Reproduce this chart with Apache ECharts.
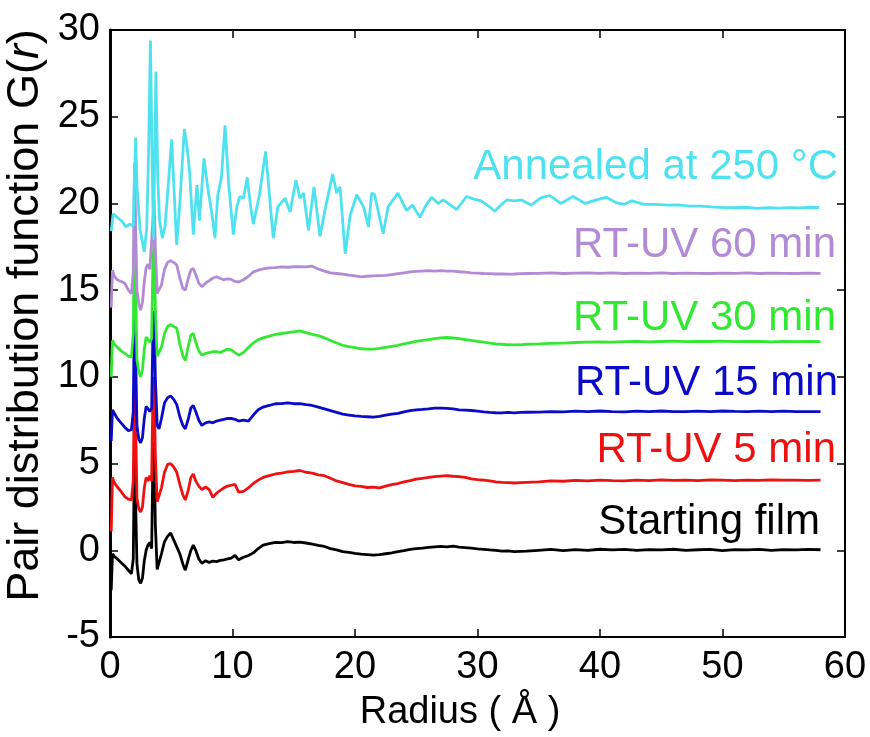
<!DOCTYPE html>
<html>
<head>
<meta charset="utf-8">
<script src="https://cdn.jsdelivr.net/npm/echarts@6/dist/echarts.min.js"></script>
<style>html,body{margin:0;padding:0;background:#fff}#c{width:870px;height:737px}</style>
</head>
<body>
<div id="c"></div>
<script>
// Radius grid for the UV / starting-film curves (Å)
const rUV = [0.1,0.2,0.35,0.6,0.9,1.2,1.5,1.75,1.9,2.0,2.1,2.2,2.35,2.5,2.65,2.8,2.95,3.1,3.25,3.4,3.5,3.6,3.7,3.85,4.0,4.2,4.45,4.7,4.95,5.2,5.45,5.7,5.95,6.15,6.4,6.6,6.8,7.0,7.25,7.5,7.8,8.1,8.4,8.7,9.0,9.3,9.6,9.9,
 10.2,10.5,10.9,11.3,11.7,12.1,12.5,13.0,13.5,14.0,14.5,15.0,15.5,16.0,16.5,17.0,17.5,18.0,18.5,19.0,19.5,20.0,20.5,21.0,21.5,22.0,22.5,23.0,23.5,24.0,24.5,25.0,25.5,26.0,26.5,27.0,27.5,28.0,28.5,29.0,29.5,30.0,30.5,31.0,31.5,32.0,32.5,33.0,33.5,34.0,
 35,36,37,38,39,40,41,42,43,44,45,46,47,48,49,50,51,52,53,54,55,56,57,58];

const gStart = [-2.3,-0.2,-0.35,-0.5,-0.7,-0.9,-1.15,-1.35,-0.5,6.0,2.5,-0.8,-1.7,-1.9,-1.6,-0.6,0.0,0.3,0.45,0.1,5.0,6.2,1.5,-1.1,-1.1,-0.2,0.5,0.8,1.0,0.6,0.2,-0.2,-0.8,-1.15,-0.5,0.0,0.3,0.0,-0.5,-0.75,-0.6,-0.7,-0.62,-0.65,-0.58,-0.55,-0.5,-0.45,
 -0.3,-0.55,-0.4,-0.3,-0.15,0.1,0.3,0.38,0.45,0.44,0.5,0.45,0.47,0.42,0.36,0.28,0.22,0.1,0.02,-0.08,-0.12,-0.18,-0.22,-0.25,-0.28,-0.25,-0.2,-0.15,-0.08,-0.02,0.05,0.1,0.12,0.17,0.2,0.22,0.2,0.24,0.18,0.15,0.12,0.08,0.05,0.02,0.0,-0.05,-0.04,-0.08,-0.06,-0.05,
 0.0,0.05,-0.02,0.04,0.0,0.06,0.02,0.05,0.0,0.04,0.02,0.06,0.0,0.03,0.05,-0.02,0.04,0.02,0.05,0.0,0.04,0.02,0.05,0.03];

const g5min = [1.1,4.2,3.9,3.65,3.4,3.1,2.95,2.9,4.0,10.5,7.0,3.0,2.4,2.2,2.5,3.6,4.2,4.0,4.3,4.0,9.0,10.0,5.5,2.8,2.75,3.6,4.5,4.95,5.0,4.8,4.5,3.8,3.2,2.9,3.5,4.2,4.4,4.0,3.7,3.5,3.65,3.5,3.05,3.3,3.45,3.6,3.7,3.75,
 3.8,3.35,3.4,3.6,3.85,4.05,4.2,4.3,4.4,4.45,4.52,4.55,4.6,4.5,4.45,4.35,4.3,4.15,4.0,3.9,3.8,3.72,3.68,3.62,3.64,3.6,3.7,3.78,3.85,3.95,4.02,4.1,4.15,4.2,4.25,4.28,4.3,4.27,4.25,4.2,4.12,4.08,4.05,4.0,3.95,3.92,3.9,3.88,3.9,3.92,
 3.95,4.0,3.98,4.03,4.0,4.05,4.02,4.0,4.04,4.02,4.06,4.03,4.05,4.02,4.06,4.04,4.02,4.05,4.03,4.06,4.04,4.05,4.03,4.04];

const g15min = [6.3,8.1,7.9,7.6,7.35,7.1,6.9,6.95,8.0,14.5,11.0,7.2,6.4,6.2,6.5,7.6,8.3,8.3,8.0,8.2,12.5,13.8,10.0,7.2,7.0,7.6,8.5,8.8,8.9,8.7,8.4,7.7,7.2,7.0,7.6,8.2,8.35,8.0,7.5,7.2,7.35,7.4,7.35,7.45,7.5,7.55,7.6,7.6,
 7.55,7.45,7.5,7.45,7.8,8.1,8.26,8.35,8.45,8.46,8.5,8.45,8.46,8.4,8.35,8.25,8.15,8.05,7.95,7.85,7.8,7.75,7.72,7.7,7.68,7.72,7.8,7.85,7.9,7.98,8.05,8.1,8.12,8.15,8.2,8.2,8.18,8.15,8.1,8.08,8.06,8.02,7.98,7.95,7.93,7.92,7.95,7.92,7.95,7.96,
 7.97,8.0,7.98,8.02,8.0,8.03,8.0,7.98,8.02,8.0,8.03,8.0,7.99,8.02,8.0,8.03,8.01,8.0,8.02,7.99,8.02,8.0,8.0,8.0];

const g30min = [10.0,12.1,11.9,11.7,11.5,11.35,11.2,11.15,12.5,19.6,15.0,11.0,10.3,10.0,10.4,11.6,12.3,12.3,12.0,12.2,16.5,17.9,14.0,11.2,11.1,11.7,12.5,12.9,13.0,12.9,12.8,11.9,11.2,10.95,11.8,12.4,12.5,12.0,11.5,11.25,11.35,11.4,11.45,11.45,11.4,11.5,11.6,11.55,
 11.4,11.25,11.4,11.7,11.95,12.15,12.25,12.35,12.45,12.5,12.55,12.6,12.65,12.55,12.45,12.38,12.25,12.1,11.95,11.82,11.74,11.68,11.62,11.6,11.6,11.64,11.7,11.76,11.82,11.9,11.98,12.05,12.1,12.15,12.2,12.25,12.27,12.24,12.2,12.15,12.1,12.05,12.0,11.95,11.9,11.88,11.85,11.84,11.85,11.88,
 11.9,11.93,11.95,11.98,12.0,12.02,12.0,12.03,12.05,12.02,12.04,12.06,12.03,12.05,12.04,12.06,12.03,12.05,12.04,12.02,12.05,12.03,12.04,12.03];

const g60min = [14.0,16.15,15.8,15.6,15.5,15.4,15.0,14.8,16.0,22.3,18.5,15.0,14.2,13.85,14.3,15.5,16.3,16.5,16.2,16.3,19.0,20.2,17.5,14.8,14.7,15.3,16.2,16.6,16.7,16.6,16.45,15.7,15.1,15.0,15.7,16.15,16.25,15.9,15.4,15.2,15.4,15.55,15.7,15.77,15.67,15.6,15.65,15.62,
 15.5,15.47,15.6,15.8,16.05,16.15,16.22,16.28,16.3,16.34,16.32,16.35,16.36,16.34,16.38,16.22,16.1,16.0,15.96,15.92,15.86,15.82,15.77,15.8,15.82,15.84,15.85,15.9,15.95,16.0,16.05,16.08,16.1,16.12,16.1,16.12,16.1,16.1,16.06,16.04,16.0,15.98,15.96,15.95,15.93,15.94,15.92,15.93,15.95,15.96,
 15.97,15.99,15.96,15.98,16.0,15.97,15.99,15.96,15.98,15.97,15.99,15.96,15.98,15.97,15.96,15.98,15.97,15.99,15.96,15.98,15.97,15.96,15.98,15.97];

// Radius grid for the annealed curve (Å)
const rAnneal = [0.1,0.25,0.5,0.75,1.0,1.3,1.6,1.9,2.0,2.1,2.2,2.45,2.8,3.0,3.15,3.3,3.45,3.55,3.65,3.75,3.9,4.05,4.27,4.5,4.75,5.03,5.25,5.44,5.7,6.07,6.3,6.5,6.8,7.1,7.3,7.67,8.0,8.3,8.57,8.8,9.1,9.39,9.7,10.07,10.35,10.6,10.9,11.2,11.45,11.7,12.2,12.7,13.0,13.33,13.7,14.3,14.7,15.18,15.5,15.8,16.2,16.65,17.14,17.6,18.18,18.5,18.78,19.2,19.6,20.14,20.7,21.1,21.36,21.6,22.3,22.7,23.5,24.2,24.7,25.3,25.8,26.25,26.8,27.2,27.8,28.3,29.1,29.7,30.3,30.9,31.4,31.9,32.4,33.0,33.6,34.4,35.1,35.9,36.8,37.8,38.8,39.7,40.5,41.3,42.0,42.6,43.6,44.6,45.5,46.4,47.3,48.2,49.1,50.1,51.0,51.9,52.8,53.7,54.6,55.5,56.4,57.2,57.9];
const gAnneal = [18.4,19.4,19.25,19.1,18.95,18.65,18.8,18.7,21.5,23.8,21.0,18.5,17.2,18.6,23.0,29.4,22.0,18.0,22.5,27.6,21.5,19.0,18.0,18.7,21.0,23.7,20.5,17.6,20.0,24.3,23.2,21.8,18.2,21.05,19.0,22.6,20.8,19.5,18.0,20.5,21.5,24.5,21.0,18.2,19.8,20.4,20.3,21.5,20.0,18.8,20.5,23.0,20.6,18.0,19.8,20.3,19.5,21.35,20.3,20.6,18.45,20.95,18.1,19.8,21.7,20.6,20.95,17.1,19.3,20.5,19.8,18.65,20.6,20.5,18.25,19.8,20.6,19.6,19.9,19.2,19.9,20.35,20.0,20.2,19.9,19.65,20.4,20.25,20.15,19.85,19.55,19.9,20.2,20.15,20.2,19.9,20.3,20.45,20.0,20.4,20.0,20.2,20.35,20.05,19.95,20.15,19.95,19.95,19.9,19.92,19.85,19.85,19.8,19.76,19.75,19.78,19.72,19.75,19.73,19.76,19.74,19.78,19.76];

const xTicks = [0,10,20,30,40,50,60];
const yTicks = [-5,0,5,10,15,20,25,30];

const seriesDefs = [
  {name:'Starting film', r:rUV, g:gStart, color:'#000000'},
  {name:'RT-UV 5 min', r:rUV, g:g5min, color:'#ee1111'},
  {name:'RT-UV 15 min', r:rUV, g:g15min, color:'#0a0ac8'},
  {name:'RT-UV 30 min', r:rUV, g:g30min, color:'#33e833'},
  {name:'RT-UV 60 min', r:rUV, g:g60min, color:'#b28ad6'},
  {name:'Annealed at 250 °C', r:rAnneal, g:gAnneal, color:'#4ee2f0'}
];

const FONT = '"Liberation Sans", Arial, sans-serif';
const chart = echarts.init(document.getElementById('c'), null, {renderer:'canvas'});

const axisCommon = {
  type:'value', axisLine:{show:true, onZero:false, lineStyle:{color:'#000', width:2}},
  axisTick:{show:true, inside:true, length:8, lineStyle:{color:'#000', width:1.5}},
  splitLine:{show:false}
};

const labelPos = [
  {text:'Starting film', x:820, y:522, color:'#000000'},
  {text:'RT-UV 5 min', x:836, y:450, color:'#ee1111'},
  {text:'RT-UV 15 min', x:838, y:383, color:'#0a0ac8'},
  {text:'RT-UV 30 min', x:836, y:318, color:'#33e833'},
  {text:'RT-UV 60 min', x:836, y:245, color:'#b28ad6'},
  {text:'Annealed at 250 °C', x:838, y:167, color:'#4ee2f0'}
];

chart.setOption({
  animation:false,
  backgroundColor:'#fff',
  grid:{left:110, right:25, top:30, bottom:100, containLabel:false, outerBoundsMode:'none'},
  xAxis:[
    Object.assign({}, axisCommon, {min:xTicks[0], max:xTicks[xTicks.length-1], interval:10, position:'bottom',
      axisLabel:{color:'#000', fontSize:38, fontFamily:FONT, margin:12},
      name:'Radius ( Å )', nameLocation:'middle', nameGap:57, nameMoveOverlap:false,
      nameTextStyle:{color:'#000', fontSize:38, fontFamily:FONT, padding:[0,35,0,0]}}),
    Object.assign({}, axisCommon, {min:xTicks[0], max:xTicks[xTicks.length-1], interval:10, position:'top', axisLabel:{show:false}})
  ],
  yAxis:[
    Object.assign({}, axisCommon, {min:yTicks[0], max:yTicks[yTicks.length-1], interval:5, position:'left',
      axisLine:{show:true, onZero:false, lineStyle:{color:'#000', width:3}},
      axisLabel:{color:'#000', fontSize:38, fontFamily:FONT, margin:10},
      name:'Pair distribution function G({i|r})', nameLocation:'middle', nameGap:62, nameRotate:90, nameMoveOverlap:false,
      nameTextStyle:{color:'#000', fontSize:45, fontFamily:FONT, padding:[0,0,0,36],
        rich:{i:{fontStyle:'italic', fontSize:45, fontFamily:FONT, color:'#000'}}}}),
    Object.assign({}, axisCommon, {min:yTicks[0], max:yTicks[yTicks.length-1], interval:5, position:'right', axisLabel:{show:false}})
  ],
  series: seriesDefs.map(s => ({
    name:s.name, type:'line', xAxisIndex:0, yAxisIndex:0, showSymbol:false, symbol:'none',
    data:s.r.map((r,i)=>[r, s.g[i]]),
    lineStyle:{color:s.color, width:2.8}, itemStyle:{color:s.color}, silent:true
  })),
  graphic: labelPos.map(l => ({
    type:'text', x:l.x, y:l.y, silent:true,
    style:{text:l.text, fill:l.color, fontSize:42, fontFamily:FONT, align:'right', verticalAlign:'middle', textAlign:'right', textVerticalAlign:'middle'}
  }))
});
</script>
</body>
</html>
